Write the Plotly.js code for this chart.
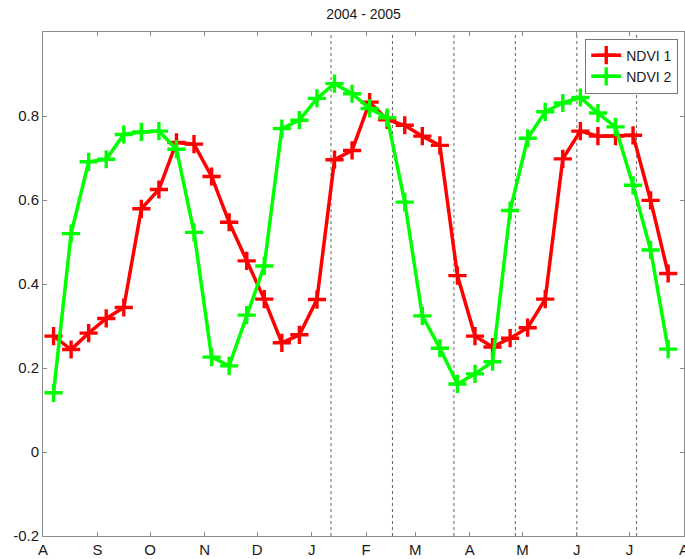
<!DOCTYPE html>
<html>
<head>
<meta charset="utf-8">
<script src="https://cdn.plot.ly/plotly-3.0.1.min.js"></script>
<style>
  html, body { margin: 0; padding: 0; background: #fff; }
  #chart { width: 685px; height: 559px; }
</style>
</head>
<body>
<div id="chart"></div>
<script>
// Dekadal observation dates (Aug 2004 - Jul 2005)
var dates = [
  '2004-08-07','2004-08-17','2004-08-27','2004-09-06','2004-09-16','2004-09-26',
  '2004-10-06','2004-10-16','2004-10-26','2004-11-05','2004-11-15','2004-11-25',
  '2004-12-05','2004-12-15','2004-12-25','2005-01-04','2005-01-14','2005-01-24',
  '2005-02-03','2005-02-13','2005-02-23','2005-03-05','2005-03-15','2005-03-25',
  '2005-04-04','2005-04-14','2005-04-24','2005-05-04','2005-05-14','2005-05-24',
  '2005-06-03','2005-06-13','2005-06-23','2005-07-03','2005-07-13','2005-07-23'
];

var ndvi1 = [
  0.276, 0.244, 0.283, 0.318, 0.344, 0.579, 0.625, 0.737, 0.733, 0.656,
  0.547, 0.455, 0.364, 0.260, 0.279, 0.363, 0.696, 0.718, 0.833, 0.791,
  0.778, 0.752, 0.730, 0.420, 0.276, 0.250, 0.271, 0.296, 0.364, 0.698,
  0.764, 0.752, 0.752, 0.754, 0.599, 0.425
];

var ndvi2 = [
  0.141, 0.520, 0.691, 0.697, 0.756, 0.762, 0.764, 0.721, 0.523, 0.226,
  0.205, 0.326, 0.443, 0.770, 0.790, 0.842, 0.877, 0.853, 0.818, 0.796,
  0.595, 0.324, 0.247, 0.162, 0.186, 0.215, 0.575, 0.747, 0.810, 0.831,
  0.844, 0.807, 0.774, 0.635, 0.481, 0.245
];

// Month ticks
var monthTicks = [
  '2004-08-01','2004-09-01','2004-10-01','2004-11-01','2004-12-01','2005-01-01',
  '2005-02-01','2005-03-01','2005-04-01','2005-05-01','2005-06-01','2005-07-01','2005-08-01'
];
var monthLabels = ['A','S','O','N','D','J','F','M','A','M','J','J','A'];

var yTicks = [-0.2, 0, 0.2, 0.4, 0.6, 0.8];
var yLabels = ['-0.2', '0', '0.2', '0.4', '0.6', '0.8'];

// Dotted vertical reference dates
var refDates = ['2005-01-12','2005-02-16','2005-03-23','2005-04-27','2005-06-01','2005-07-05'];

var seriesNames = ['NDVI 1', 'NDVI 2'];
var seriesColors = ['#ff0000', '#00ff00'];

function makeTrace(y, name, color) {
  return {
    x: dates, y: y, name: name, type: 'scatter', mode: 'lines+markers',
    line: { color: color, width: 3.5 },
    marker: { symbol: 'cross-thin', size: 13, color: color, line: { color: color, width: 3.4 } },
    cliponaxis: false
  };
}

var traces = [
  makeTrace(ndvi1, seriesNames[0], seriesColors[0]),
  makeTrace(ndvi2, seriesNames[1], seriesColors[1])
];

var shapes = refDates.map(function (d) {
  return {
    type: 'line', xref: 'x', yref: 'paper', x0: d, x1: d, y0: 0, y1: 1,
    line: { color: '#666', width: 1, dash: 'dot' }, layer: 'below'
  };
});

var axisColor = '#8a8a8a';
var fontFam = 'Liberation Sans, Arial, Helvetica, sans-serif';

var layout = {
  width: 685, height: 559,
  margin: { l: 43, r: 1, t: 32, b: 23, pad: 0 },
  paper_bgcolor: '#fff', plot_bgcolor: '#fff',
  font: { family: fontFam, size: 15, color: '#1a1a1a' },
  title: {
    text: '2004 - 2005', font: { family: fontFam, size: 14, color: '#1a1a1a' },
    x: 0.5, xref: 'paper', xanchor: 'center', y: 0.975, yref: 'container', yanchor: 'middle'
  },
  xaxis: {
    type: 'date', range: ['2004-08-01', '2005-08-01 00:20'],
    tickmode: 'array', tickvals: monthTicks, ticktext: monthLabels,
    ticks: 'inside', ticklen: 4, tickcolor: axisColor, tickwidth: 1,
    showline: true, linecolor: axisColor, linewidth: 1, mirror: 'ticks',
    showgrid: false, zeroline: false, automargin: false,
    ticklabeloverflow: 'allow',
    tickfont: { family: fontFam, size: 15, color: '#1a1a1a' }
  },
  yaxis: {
    range: [-0.2, 1.0],
    tickmode: 'array', tickvals: yTicks, ticktext: yLabels,
    ticks: 'inside', ticklen: 4, tickcolor: axisColor, tickwidth: 1,
    showline: true, linecolor: axisColor, linewidth: 1, mirror: 'ticks',
    showgrid: false, zeroline: false, automargin: false,
    ticklabeloverflow: 'allow',
    tickfont: { family: fontFam, size: 15, color: '#1a1a1a' }
  },
  showlegend: true,
  legend: {
    x: 0.991, xanchor: 'right', y: 0.987, yanchor: 'top',
    bgcolor: '#fff', bordercolor: '#777', borderwidth: 1,
    font: { family: fontFam, size: 14, color: '#1a1a1a' },
    itemwidth: 30, tracegroupgap: 0
  },
  shapes: shapes
};

Plotly.newPlot('chart', traces, layout, { staticPlot: true, displayModeBar: false });
</script>
</body>
</html>
